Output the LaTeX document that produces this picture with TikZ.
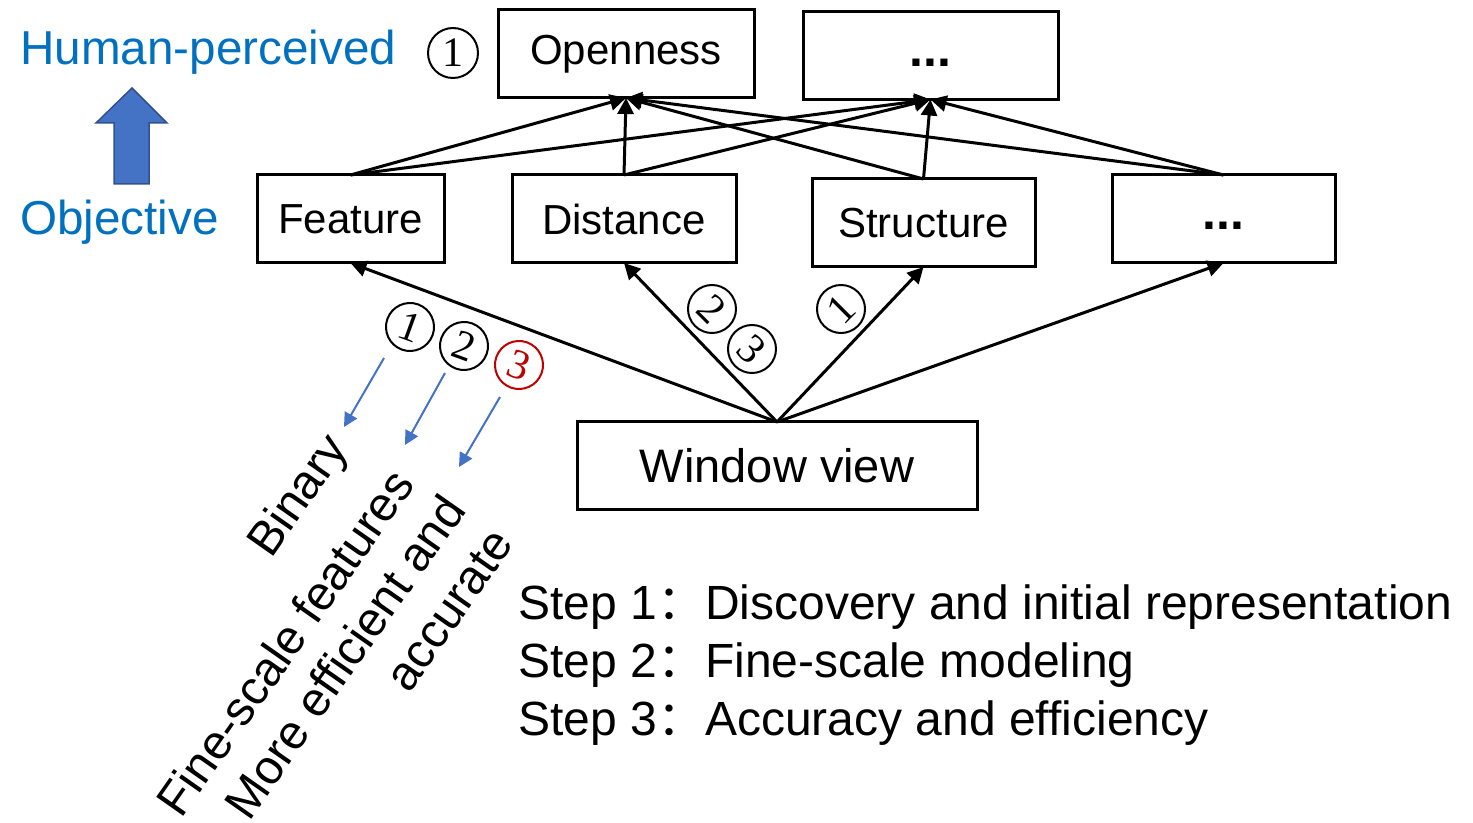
\documentclass[tikz,border=0pt]{standalone}
\usepackage{fontspec}
\setsansfont{Liberation Sans}
\newfontfamily\cjk{Noto Sans CJK SC}
\newfontfamily\numfont{Liberation Serif}
\usetikzlibrary{arrows.meta}
\definecolor{tblue}{HTML}{0070C0}
\definecolor{afill}{HTML}{4472C4}
\definecolor{aedge}{HTML}{2F528F}
\definecolor{dred}{HTML}{C00000}
\newcommand\boxdots{\raisebox{-5.5pt}[0pt][0pt]{\fontsize{25}{25}\selectfont\textbf{...}}}
\begin{document}
\begin{tikzpicture}[x=0.5pt,y=-0.5pt,
  box/.style={draw, line width=1.5pt, inner sep=0pt, outer sep=0pt,
    minimum height=44pt, font=\sffamily\fontsize{21}{25}\selectfont},
  conn/.style={line width=1.5pt, -{Triangle[length=8pt,width=8pt]}},
  num/.style={circle, draw, line width=1pt, minimum size=24pt, inner sep=0pt,
    font=\numfont\fontsize{21}{21}\selectfont},
  barrow/.style={draw=afill, line width=1pt, -{Triangle[length=7pt,width=7pt]}},
  rot/.style={rotate=55, inner sep=0pt, align=right,
    font=\sffamily\fontsize{24}{29}\selectfont},
  blab/.style={text=tblue, inner sep=0pt, anchor=base west,
    font=\sffamily\fontsize{23.8}{28}\selectfont},
  steps/.style={inner sep=0pt, anchor=base west,
    font=\sffamily\fontsize{24}{29}\selectfont}
]
\useasboundingbox (0,0) rectangle (1473,823);

% top boxes
\node[box, minimum width=128pt] (open) at (626,54) {Openness};
\node[box, minimum width=127.5pt] (tdots) at (930.5,55.5) {\boxdots};
% middle boxes
\node[box, minimum width=93.5pt] (feat) at (350.5,219) {Feature};
\node[box, minimum width=112pt] (dist) at (624,219) {Distance};
\node[box, minimum width=111.5pt] (struc) at (923.5,223) {Structure};
\node[box, minimum width=111.5pt] (mdots) at (1223.5,219) {\boxdots};
% window view
\node[box, minimum width=200pt, font=\sffamily\fontsize{23.5}{28}\selectfont] (wv) at (777,466) {Window view};

% lower connectors
\draw[conn] (wv.north) -- (feat.south);
\draw[conn] (wv.north) -- (dist.south);
\draw[conn] (wv.north) -- (struc.south);
\draw[conn] (wv.north) -- (mdots.south);

% upper connectors
\foreach \s in {feat,dist,struc,mdots}{
  \draw[conn] (\s.north) -- (open.south);
  \draw[conn] (\s.north) -- (tdots.south);
}

% side labels
\node[blab] (hp) at (20,65) {Human-perceived};
\node[blab] (obj) at (20,235) {Objective};
\draw[fill=afill, draw=aedge, line width=0.75pt]
  (114,184) -- (114,123) -- (96,123) -- (132,88) -- (167,123) -- (149,123) -- (149,184) -- cycle;

% circled numbers
\node[num, minimum size=25pt] (n0) at (453,53) {1};
\node[num, rotate=-20] (fa) at (410,327) {1};
\node[num, rotate=-20] (fb) at (464,346) {2};
\node[num, rotate=-20, draw=dred, text=dred] (fc) at (519,365) {3};
\node[num, rotate=-45] (da) at (712,309) {2};
\node[num, rotate=-45] (db) at (752,349) {3};
\node[num, rotate=45] (sa) at (841,309) {1};

% blue arrows
\coordinate (b1s) at (384,358); \coordinate (b1e) at (344,427);
\coordinate (b2s) at (445,373); \coordinate (b2e) at (405,445);
\coordinate (b3s) at (500,397); \coordinate (b3e) at (459,467);
\draw[barrow] (b1s) -- (b1e);
\draw[barrow] (b2s) -- (b2e);
\draw[barrow] (b3s) -- (b3e);

% rotated labels
\node[rot] (lb) at (300,497) {Binary};
\node[rot] (lf) at (285,642) {Fine-scale features};
\node[rot] (lm) at (368,673) {More efficient and\\accurate};

% steps
\node[steps] (s1) at (518,619) {Step 1{\cjk ：}Discovery and initial representation};
\node[steps] (s2) at (518,677) {Step 2{\cjk ：}Fine-scale modeling};
\node[steps] (s3) at (518,735) {Step 3{\cjk ：}Accuracy and efficiency};
\end{tikzpicture}
\end{document}
